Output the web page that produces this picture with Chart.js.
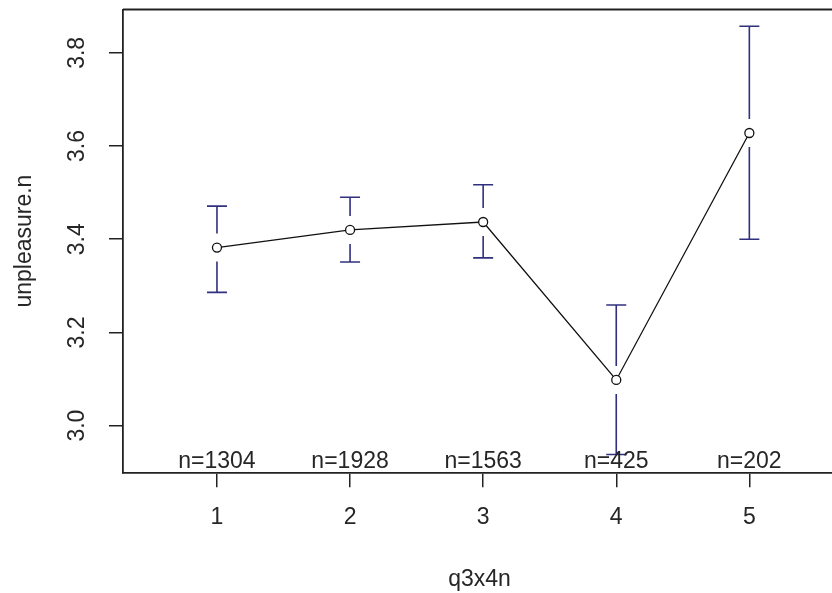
<!DOCTYPE html>
<html>
<head>
<meta charset="utf-8">
<script src="https://cdn.jsdelivr.net/npm/chart.js@4/dist/chart.umd.min.js"></script>
<style>
  html, body { margin: 0; padding: 0; background: #fff; }
  #wrap { width: 832px; height: 593px; }
</style>
</head>
<body>
<div id="wrap"><canvas id="chart1" width="832" height="593"></canvas></div>
<script>
var groups = [1, 2, 3, 4, 5];
var means = [3.382, 3.420, 3.437, 3.098, 3.628];
var upper = [3.471, 3.490, 3.517, 3.259, 3.857];
var lower = [3.286, 3.351, 3.360, 2.938, 3.400];
var counts = [1304, 1928, 1563, 425, 202];
var yTicks = [3.0, 3.2, 3.4, 3.6, 3.8];

var FONT = '"Liberation Sans", Arial, sans-serif';
var TXT = '#262626';

var ctx = document.getElementById("chart1");

// error bars, n= labels, y tick labels and titles (R plotmeans look)
var rBits = {
    id: 'rBits',
    beforeDatasetsDraw: function (chart) {
        var c = chart.ctx, xs = chart.scales.x, ys = chart.scales.y;
        c.save();
        c.strokeStyle = '#30307f';
        c.lineWidth = 1.6;
        for (var i = 0; i < groups.length; i++) {
            var px = xs.getPixelForValue(groups[i]);
            var pm = ys.getPixelForValue(means[i]);
            var pu = ys.getPixelForValue(upper[i]);
            var pl = ys.getPixelForValue(lower[i]);
            c.beginPath();
            c.moveTo(px, pm - 14); c.lineTo(px, pu);
            c.moveTo(px - 10, pu); c.lineTo(px + 10, pu);
            c.moveTo(px, pm + 14); c.lineTo(px, pl);
            c.moveTo(px - 10, pl); c.lineTo(px + 10, pl);
            c.stroke();
        }
        c.restore();
    },
    afterDraw: function (chart) {
        var c = chart.ctx, xs = chart.scales.x, ys = chart.scales.y, a = chart.chartArea;
        c.save();
        // top frame line
        c.strokeStyle = '#222';
        c.lineWidth = 1.8;
        c.beginPath();
        c.moveTo(a.left, a.top); c.lineTo(chart.width, a.top);
        c.stroke();

        c.fillStyle = TXT;
        c.font = '23px ' + FONT;
        c.textAlign = 'center';
        c.textBaseline = 'alphabetic';
        for (var i = 0; i < groups.length; i++) {
            c.fillText('n=' + counts[i], xs.getPixelForValue(groups[i]), a.bottom - 5);
        }
        c.fillText('q3x4n', 479.5, 585.5);

        // rotated y tick labels
        c.textBaseline = 'middle';
        yTicks.forEach(function (v) {
            c.save();
            c.translate(77.5, ys.getPixelForValue(v));
            c.rotate(-Math.PI / 2);
            c.fillText(v.toFixed(1), 0, 0);
            c.restore();
        });
        c.save();
        c.translate(25, (a.top + a.bottom) / 2);
        c.rotate(-Math.PI / 2);
        c.fillText('unpleasure.n', 0, 0);
        c.restore();
        c.restore();
    }
};

var data = {
    datasets: [{
        label: 'unpleasure.n',
        data: groups.map(function (g, i) { return { x: g, y: means[i] }; }),
        borderColor: '#111',
        borderWidth: 1.3,
        pointRadius: 4.5,
        pointBorderWidth: 1.3,
        pointBorderColor: '#111',
        pointBackgroundColor: '#fff',
        fill: false,
        tension: 0
    }]
};

var options = {
    responsive: false,
    animation: false,
    events: [],
    layout: { autoPadding: false, padding: { top: 9.5, right: 0, left: 0, bottom: 0 } },
    plugins: { legend: { display: false }, tooltip: { enabled: false } },
    scales: {
        x: {
            type: 'linear',
            min: 0.294,
            max: 5.621,
            afterBuildTicks: function (s) { s.ticks = groups.map(function (v) { return { value: v }; }); },
            afterFit: function (s) { s.height = 120.3; s.paddingLeft = 0; s.paddingRight = 0; },
            grid: { display: true, drawOnChartArea: false, drawTicks: true, tickLength: 14.5, color: '#222', lineWidth: 1.5 },
            border: { display: true, color: '#222', width: 1.8 },
            ticks: { color: TXT, font: { family: FONT, size: 23 }, padding: 17, maxRotation: 0, autoSkip: false }
        },
        y: {
            type: 'linear',
            min: 2.899,
            max: 3.893,
            afterBuildTicks: function (s) { s.ticks = yTicks.map(function (v) { return { value: v }; }); },
            afterFit: function (s) { s.width = 123; s.paddingTop = 0; s.paddingBottom = 0; },
            grid: { display: true, drawOnChartArea: false, drawTicks: true, tickLength: 14, color: '#222', lineWidth: 1.5 },
            border: { display: true, color: '#222', width: 1.8 },
            ticks: { display: false }
        }
    }
};

var chart1 = new Chart(ctx, {
    type: 'line',
    data: data,
    options: options,
    plugins: [rBits]
});
</script>
</body>
</html>
